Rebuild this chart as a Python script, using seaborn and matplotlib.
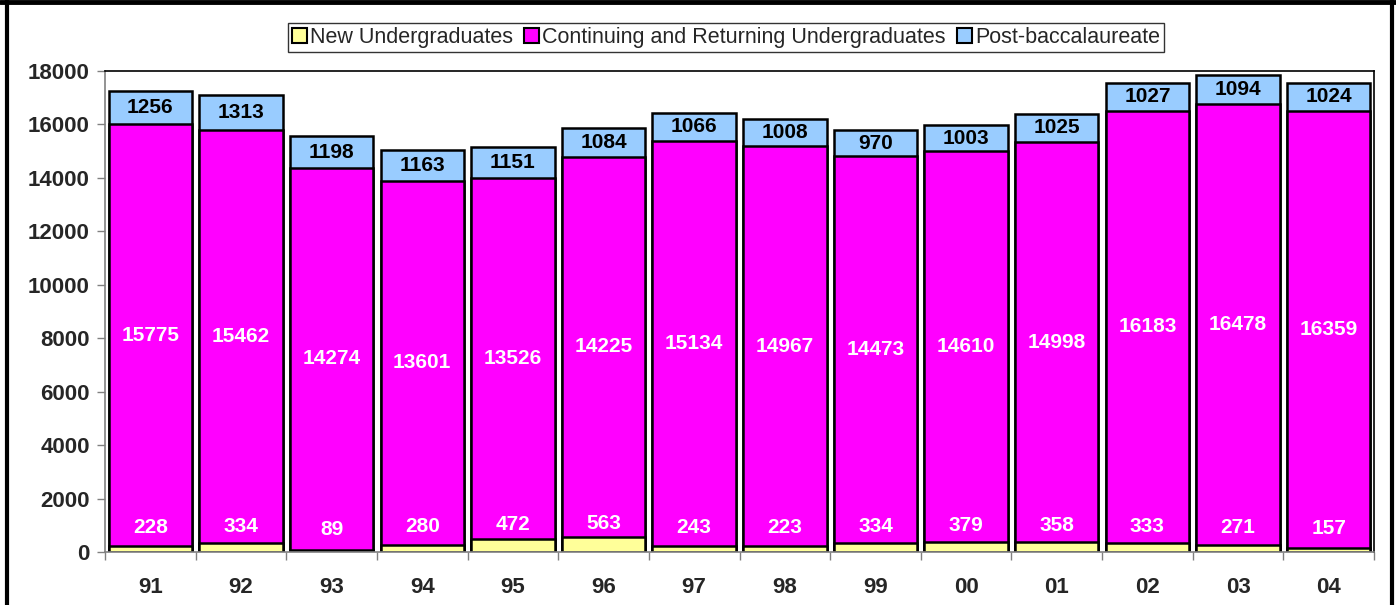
import matplotlib
matplotlib.use("Agg")
import matplotlib.pyplot as plt
import seaborn as sns
import pandas as pd
import numpy as np
from matplotlib.patches import Patch
from matplotlib.lines import Line2D

years = ["91", "92", "93", "94", "95", "96", "97", "98", "99", "00", "01", "02", "03", "04"]
new_ug = [228, 334, 89, 280, 472, 563, 243, 223, 334, 379, 358, 333, 271, 157]
cont_ug = [15775, 15462, 14274, 13601, 13526, 14225, 15134, 14967, 14473, 14610, 14998, 16183, 16478, 16359]
post_bac = [1256, 1313, 1198, 1163, 1151, 1084, 1066, 1008, 970, 1003, 1025, 1027, 1094, 1024]
series_names = ["New Undergraduates", "Continuing and Returning Undergraduates", "Post-baccalaureate"]
colors = ["#FFFF99", "#FF00FF", "#99CCFF"]

sns.set_theme(style="white")
plt.rcParams['font.family'] = ['Liberation Sans', 'DejaVu Sans']

df = pd.DataFrame({"year": years, "new": new_ug, "cont": cont_ug, "post": post_bac})
df["c1"] = df["new"]
df["c2"] = df["new"] + df["cont"]
df["c3"] = df["c2"] + df["post"]

fig = plt.figure(figsize=(13.96, 6.05), dpi=100)
ax = fig.add_axes([105/1396, 53/605, (1374-105)/1396, (552-71)/605])

for col, c in zip(["c3", "c2", "c1"], [colors[2], colors[1], colors[0]]):
    sns.barplot(data=df, x="year", y=col, order=years, color=c, saturation=1,
                width=0.92, edgecolor="black", linewidth=1.8, ax=ax, errorbar=None)

for i in range(len(years)):
    n, c, p = new_ug[i], cont_ug[i], post_bac[i]
    ax.text(i, n * 0.5 + 800, str(n), ha="center", va="center", color="white",
            fontsize=15, fontweight="bold")
    ax.text(i, n + c / 2, str(c), ha="center", va="center", color="white",
            fontsize=15, fontweight="bold")
    ax.text(i, n + c + p / 2, str(p), ha="center", va="center", color="black",
            fontsize=15, fontweight="bold")

ax.set_ylim(0, 18000)
ax.set_xlim(-0.5, len(years) - 0.5)
ax.set_yticks(np.arange(0, 18001, 2000))
ax.set_yticklabels([str(v) for v in range(0, 18001, 2000)], fontsize=16, fontweight="bold")
ax.set_xticks(range(len(years)))
ax.set_xticklabels(years, fontsize=16, fontweight="bold")
ax.tick_params(axis="x", which="major", length=0, pad=18)
ax.set_xticks(np.arange(-0.5, len(years), 1), minor=True)
ax.tick_params(axis="x", which="minor", length=6, width=1, color="#808080", direction="out", bottom=True)
ax.tick_params(axis="y", length=6, width=1, color="#808080", direction="out", left=True, pad=5)
ax.set_xlabel("")
ax.set_ylabel("")
for s in ["top", "right"]:
    ax.spines[s].set_color("black")
    ax.spines[s].set_linewidth(1.2)
for s in ["left", "bottom"]:
    ax.spines[s].set_color("#808080")
    ax.spines[s].set_linewidth(1.2)

handles = [Patch(facecolor=c, edgecolor="black", linewidth=1.5) for c in colors]
leg = fig.legend(handles, series_names, loc="upper center", bbox_to_anchor=(0.52, 0.98),
                 ncol=3, fontsize=15.5, frameon=True, fancybox=False, handlelength=0.7,
                 handleheight=0.7, handletextpad=0.15, columnspacing=0.5, borderpad=0.2)
leg.get_frame().set_edgecolor("black")
leg.get_frame().set_linewidth(1.0)

# outer figure border
fig.add_artist(Line2D([6.5/1396, 6.5/1396], [0, 1], transform=fig.transFigure, color="black", lw=3))
fig.add_artist(Line2D([1392/1396, 1392/1396], [0, 1], transform=fig.transFigure, color="black", lw=3))
fig.add_artist(Line2D([0, 1], [1 - 2/605, 1 - 2/605], transform=fig.transFigure, color="black", lw=3.5))

fig.savefig("out.png", dpi=100)
